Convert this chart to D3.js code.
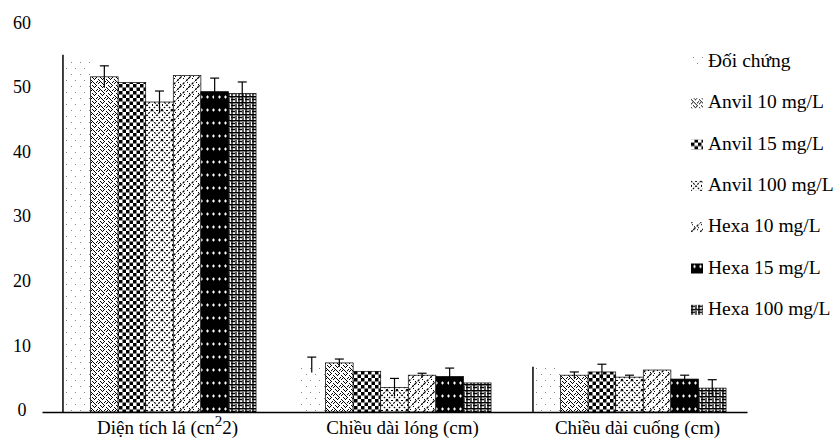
<!DOCTYPE html>
<html>
<head>
<meta charset="utf-8">
<script src="https://cdn.jsdelivr.net/npm/d3@7"></script>
<style>
  body { margin: 0; background: #fff; }
</style>
</head>
<body>
<svg id="chart" width="835" height="444"></svg>
<script>
// groups on the x axis
const groups = ['Diện tích lá', 'Chiều dài lóng (cm)', 'Chiều dài cuống (cm)']
const series = ['Đối chứng', 'Anvil 10 mg/L', 'Anvil 15 mg/L', 'Anvil 100 mg/L',
  'Hexa 10 mg/L', 'Hexa 15 mg/L', 'Hexa 100 mg/L']

// values per group, one per treatment
const leafArea = [54.2, 51.9, 51.0, 48.0, 52.1, 49.6, 49.3]
const leafAreaErr = [1.1, 1.7, 0, 1.7, 0, 2.1, 1.8]
const internode = [7.3, 7.6, 6.3, 3.8, 5.7, 5.5, 4.5]
const internodeErr = [1.2, 0.6, 0, 1.4, 0.3, 1.3, 0]
const petiole = [7.0, 5.7, 6.2, 5.4, 6.5, 5.1, 3.7]
const petioleErr = [0, 0.5, 1.2, 0.3, 0, 0.6, 1.3]
// the control bar has a line on its left edge in some groups
const controlEdge = [true, false, true]

const yTicks = [0, 10, 20, 30, 40, 50, 60]

const values = [leafArea, internode, petiole]
const errors = [leafAreaErr, internodeErr, petioleErr]

const FONT = 'Liberation Serif'
const svg = d3.select('#chart')

// patterns, black and white like the original print
const defs = svg.append('defs')
const pat = (id, w, h, draw) => {
  const p = defs.append('pattern')
    .attr('id', id).attr('patternUnits', 'userSpaceOnUse')
    .attr('width', w).attr('height', h)
  draw(p)
}
const dots = (p, pts, fill) => pts.forEach(([x, y]) =>
  p.append('rect').attr('x', x).attr('y', y).attr('width', 1).attr('height', 1).attr('fill', fill))

pat('p0', 9, 12, p => {
  p.append('rect').attr('width', 9).attr('height', 12).attr('fill', '#fff')
  dots(p, [[2, 2], [6, 8]], '#888')
})
pat('p1', 8, 8, p => {
  p.append('rect').attr('width', 8).attr('height', 8).attr('fill', '#fff')
  dots(p, [[1, 0], [2, 1], [1, 2], [0, 3], [5, 4], [6, 5], [5, 6], [4, 7], [3, 2], [7, 1],
    [2, 5], [6, 2], [3, 6], [0, 7], [4, 3]], '#000')
})
pat('p2', 7, 7, p => {
  p.append('rect').attr('width', 7).attr('height', 7).attr('fill', '#fff')
  p.append('rect').attr('width', 3.5).attr('height', 3.5).attr('fill', '#000')
  p.append('rect').attr('x', 3.5).attr('y', 3.5).attr('width', 3.5).attr('height', 3.5).attr('fill', '#000')
})
pat('p3', 10, 10, p => {
  p.append('rect').attr('width', 10).attr('height', 10).attr('fill', '#fff')
  p.append('path').attr('d', 'M0,0L10,10M10,0L0,10')
    .attr('stroke', '#000').attr('stroke-width', 1.1).attr('stroke-dasharray', '2,1.2')
  dots(p, [[4, 0], [5, 0], [0, 4], [0, 5]], '#000')
})
pat('p4', 9, 9, p => {
  p.append('rect').attr('width', 9).attr('height', 9).attr('fill', '#fff')
  p.append('path').attr('d', 'M0,9L9,0').attr('stroke', '#000').attr('stroke-width', 1.3)
    .attr('stroke-dasharray', '2.5,1.5')
  dots(p, [[1, 1], [3, 3], [6, 6], [2, 6], [7, 4]], '#000')
})
pat('p5', 12, 13, p => {
  p.append('rect').attr('width', 12).attr('height', 13).attr('fill', '#000')
  p.append('path').attr('d', 'M2,6h3M3.5,4.5v3M8,6h3M9.5,4.5v3')
    .attr('stroke', '#fff').attr('stroke-width', 1.1)
})
pat('p6', 7, 6, p => {
  p.append('rect').attr('width', 7).attr('height', 6).attr('fill', '#fff')
  p.append('path').attr('d', 'M0,0.75H7M0,3.5H4M1,0V6M5,2V6')
    .attr('stroke', '#000').attr('stroke-width', 1.3)
})
const fills = series.map((s, i) => `url(#p${i})`)

// scales
const x0 = d3.scaleBand().domain(groups).range([42, 747])
const x1 = d3.scaleBand().domain(series).range([0, x0.bandwidth()]).paddingOuter(0.76)
const y = d3.scaleLinear().domain([0, 60]).range([412, 24.5])

// y tick labels only, no axis line
svg.append('g')
  .attr('transform', 'translate(22,0)')
  .call(d3.axisLeft(y).tickValues(yTicks).tickSize(0).tickPadding(0))
  .attr('font-family', FONT)
  .attr('font-size', 18)
  .call(g => g.select('.domain').remove())
  .selectAll('text')
  .attr('font-family', FONT)
  .attr('fill', '#000')
  .attr('text-anchor', 'middle')
  .attr('x', 0)
  .attr('dy', '0.2em')

// bars
const groupG = svg.append('g').selectAll('g')
  .data(groups)
  .join('g')
  .attr('transform', d => `translate(${x0(d)},0)`)

groupG.selectAll('rect')
  .data((g, gi) => series.map((s, i) => ({ s, i, v: values[gi][i], e: errors[gi][i] })))
  .join('rect')
  .attr('x', d => x1(d.s))
  .attr('y', d => y(d.v))
  .attr('width', x1.bandwidth())
  .attr('height', d => y(0) - y(d.v))
  .attr('fill', d => fills[d.i])
  .attr('stroke', d => d.i === 0 ? 'none' : '#000')
  .attr('stroke-width', 0.7)

// error bars
const capW = 9
groupG.each(function (g, gi) {
  const sel = d3.select(this)
  series.forEach((s, i) => {
    const v = values[gi][i]
    const e = errors[gi][i]
    if (i === 0 && controlEdge[gi]) {
      sel.append('line')
        .attr('x1', x1(s)).attr('x2', x1(s))
        .attr('y1', y(0)).attr('y2', y(v + e))
        .attr('stroke', '#000').attr('stroke-width', 1.5)
      return
    }
    if (!e) return
    const cx = x1(s) + x1.bandwidth() / 2
    sel.append('line')
      .attr('x1', cx).attr('x2', cx)
      .attr('y1', y(v - e)).attr('y2', y(v + e))
      .attr('stroke', '#000').attr('stroke-width', 1.2)
    sel.append('line')
      .attr('x1', cx - capW / 2).attr('x2', cx + capW / 2)
      .attr('y1', y(v + e)).attr('y2', y(v + e))
      .attr('stroke', '#000').attr('stroke-width', 1.2)
  })
})

// x axis
const xAxis = svg.append('g')
  .attr('transform', `translate(0,${y(0)})`)
  .call(d3.axisBottom(x0).tickSize(0).tickSizeOuter(0))
  .attr('font-family', FONT)
  .attr('font-size', 19)
xAxis.select('.domain').attr('stroke', '#000').attr('stroke-width', 1.5)
xAxis.selectAll('text')
  .attr('font-family', FONT)
  .attr('fill', '#000')
  .attr('y', 22)
  .attr('dy', 0)
  .attr('dx', 8)
// first label carries the odd superscript unit from the source figure
xAxis.selectAll('.tick text')
  .filter(d => d === groups[0])
  .text(null)
  .call(t => {
    t.append('tspan').text('Diện tích lá (cn')
    t.append('tspan').attr('dy', '-8').attr('font-size', 15).text('2')
    t.append('tspan').attr('dy', '8').text('2)')
  })

// legend
const legend = svg.append('g').attr('transform', 'translate(691,67)')
const item = legend.selectAll('g')
  .data(series)
  .join('g')
  .attr('transform', (d, i) => `translate(0,${i * 41.3})`)
item.append('rect')
  .attr('x', 0).attr('y', -10)
  .attr('width', 12).attr('height', 10)
  .attr('fill', (d, i) => fills[i])
item.append('text')
  .attr('x', 17).attr('y', 0)
  .attr('font-family', FONT)
  .attr('font-size', 19.5)
  .attr('fill', '#000')
  .text(d => d)
</script>
</body>
</html>
